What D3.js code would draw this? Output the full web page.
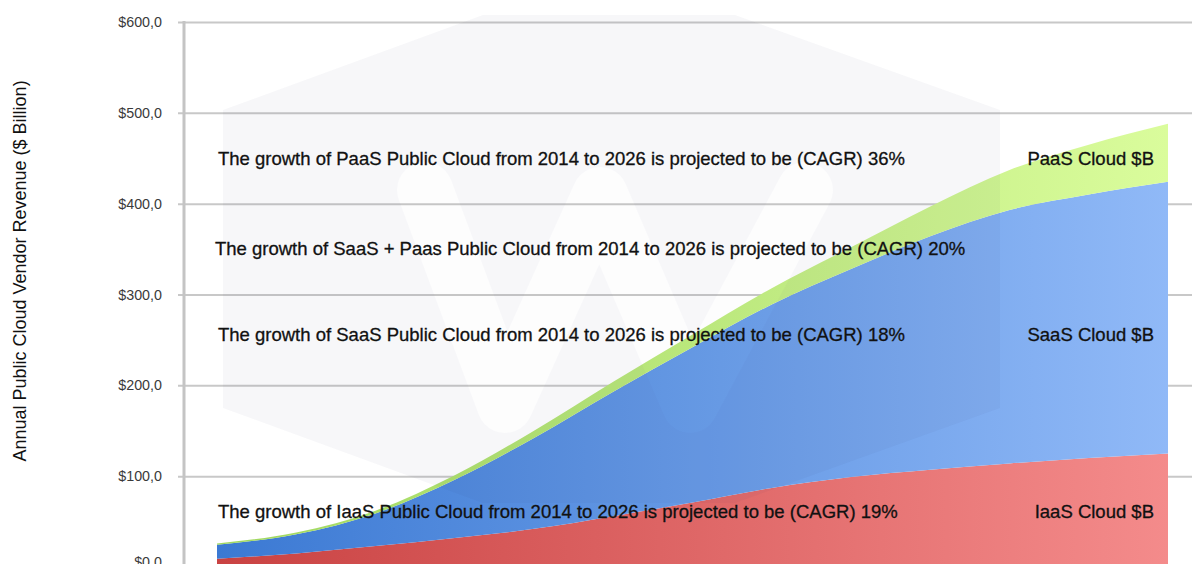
<!DOCTYPE html>
<html>
<head>
<meta charset="utf-8">
<script src="https://cdn.jsdelivr.net/npm/d3@7"></script>
<style>
  html, body { margin: 0; padding: 0; background: #fff; }
  svg { display: block; font-family: "Liberation Sans", Arial, Helvetica, sans-serif; }
</style>
</head>
<body>
<svg id="chart" width="1192" height="564"></svg>
<script>
// ---- data ----
const years = [2014, 2015, 2016, 2017, 2018, 2019, 2020, 2021, 2022, 2023, 2024, 2025, 2026];
const iaas  = [9, 15, 23, 32, 42, 56, 71, 87, 99, 107, 114, 120, 125];
const saas  = [15.5, 21, 36, 64, 100, 137, 171, 202, 229, 257, 279, 290, 299];
const paas  = [1.5, 2, 3, 5, 8, 11, 14, 18, 24, 33, 44, 55, 64];
const seriesNames = ["IaaS Cloud $B", "SaaS Cloud $B", "PaaS Cloud $B"];
const yTicks = [0, 100, 200, 300, 400, 500, 600];
const yTitle = "Annual Public Cloud Vendor Revenue ($ Billion)";
const notes = [
  {text: "The growth of PaaS Public Cloud from 2014 to 2026 is projected to be (CAGR) 36%", v: 450},
  {text: "The growth of SaaS + Paas Public Cloud from 2014 to 2026 is projected to be (CAGR) 20%", v: 351, dx: -3},
  {text: "The growth of SaaS Public Cloud from 2014 to 2026 is projected to be (CAGR) 18%", v: 256.5},
  {text: "The growth of IaaS Public Cloud from 2014 to 2026 is projected to be (CAGR) 19%", v: 61.6}
];
const sideLabels = [
  {text: "PaaS Cloud $B", v: 450},
  {text: "SaaS Cloud $B", v: 256.5},
  {text: "IaaS Cloud $B", v: 61.6}
];

// ---- layout ----
const W = 1192, H = 564;
const svg = d3.select("#chart");
const x = d3.scaleLinear().domain([2014, 2026]).range([217, 1168]);
const y = d3.scaleLinear().domain([0, 600]).range([567, 22]);
const axisX = 184;

const table = years.map((yr, i) => ({year: yr, IaaS: iaas[i], SaaS: saas[i], PaaS: paas[i]}));
const keys = ["IaaS", "SaaS", "PaaS"];
const stack = d3.stack().keys(keys)(table);

// gradients
const defs = svg.append("defs");
const grads = {
  IaaS: ["#c94242", "#f48b8b"],
  SaaS: ["#3b79d3", "#90b9f7"],
  PaaS: ["#9fd75e", "#dafc9c"]
};
keys.forEach(k => {
  const g = defs.append("linearGradient").attr("id", "g" + k)
    .attr("gradientUnits", "userSpaceOnUse")
    .attr("x1", x(2014)).attr("x2", x(2026)).attr("y1", 0).attr("y2", 0);
  g.append("stop").attr("offset", "0%").attr("stop-color", grads[k][0]);
  g.append("stop").attr("offset", "100%").attr("stop-color", grads[k][1]);
});

// gridlines + tick labels
const gridG = svg.append("g").attr("transform", `translate(${axisX},0)`)
  .call(d3.axisLeft(y).tickValues(yTicks).tickSizeInner(-(W - axisX + 10)).tickSizeOuter(0)
    .tickFormat(d => "$" + d + ",0"));
gridG.select(".domain").remove();
gridG.selectAll(".tick line").attr("x1", -6).attr("stroke", "#c8c8c8").attr("stroke-width", 2);
gridG.selectAll(".tick text").attr("x", -22).attr("fill", "#3a3a3a")
  .attr("y", d => d === 0 ? -5 : 0)
  .style("font-size", "14.3px").style("font-family", "'Liberation Sans', Arial, sans-serif");

// vertical axis line
svg.append("line").attr("x1", axisX).attr("x2", axisX).attr("y1", y(600) - 1).attr("y2", H)
  .attr("stroke", "#c4c4c4").attr("stroke-width", 3);

// areas
const area = d3.area()
  .x(d => x(d.data.year))
  .y0(d => y(d[0]))
  .y1(d => y(d[1]))
  .curve(d3.curveMonotoneX);
svg.append("g").selectAll("path").data(stack).join("path")
  .attr("d", area)
  .attr("fill", d => `url(#g${d.key})`);

// watermark: faint shield shape with a "W" cut out
const mask = defs.append("mask").attr("id", "wmask");
mask.append("rect").attr("width", W).attr("height", H).attr("fill", "#fff");
mask.append("path")
  .attr("d", "M425,190 L505,405 L600,195 L690,405 L805,190")
  .attr("fill", "none").attr("stroke", "#555").attr("stroke-width", 56)
  .attr("stroke-linejoin", "round").attr("stroke-linecap", "round");
const shield = [[223,110],[483,15],[735,15],[1000,110],[1000,408],[735,503],[483,503],[223,408]];
svg.append("polygon").attr("points", shield.map(p => p.join(",")).join(" "))
  .attr("fill", "rgb(40,40,100)").attr("fill-opacity", 0.04)
  .attr("mask", "url(#wmask)");

// annotations
svg.append("g").selectAll("text").data(notes).join("text")
  .attr("x", d => 218 + (d.dx || 0))
  .attr("y", d => y(d.v) + 6.5)
  .attr("fill", "#111").attr("stroke", "#111").attr("stroke-width", 0.3)
  .style("font-size", "18.5px")
  .text(d => d.text);

svg.append("g").selectAll("text").data(sideLabels).join("text")
  .attr("x", 1154)
  .attr("y", d => y(d.v) + 6.5)
  .attr("text-anchor", "end")
  .attr("fill", "#111").attr("stroke", "#111").attr("stroke-width", 0.3)
  .style("font-size", "18.5px")
  .text(d => d.text);

// y axis title
svg.append("text")
  .attr("transform", "translate(25.5,271) rotate(-90)")
  .attr("text-anchor", "middle")
  .attr("fill", "#111")
  .style("font-size", "18px")
  .text(yTitle);
</script>
</body>
</html>
